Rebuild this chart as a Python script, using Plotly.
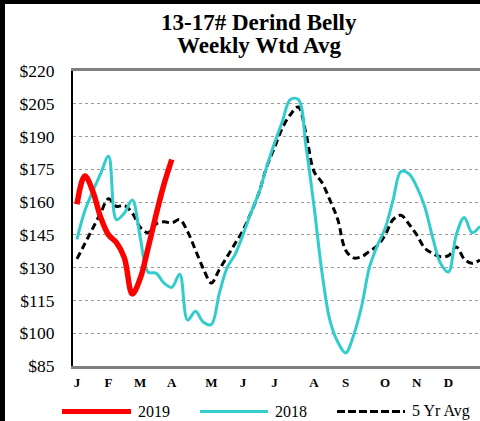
import plotly.graph_objects as go

# ---- data ----
weeks = list(range(1, 53))
weeks_2019 = list(range(1, 14))
values_2019 = [159, 172, 165, 153, 145, 141.5, 134.5, 118, 125, 139, 154, 168, 179.5]
values_2018 = [143, 156, 165, 173, 181, 152, 155, 161, 144, 128,
               127.5, 123, 121, 127, 106, 110, 105, 104, 118, 130,
               136, 145, 155, 164, 176, 187, 197, 207, 207, 185,
               158, 128, 106, 96, 91, 99, 112, 130, 140, 148,
               161, 174, 173, 167, 158, 144, 132, 128, 145, 153,
               146, 149]
values_5yr = [134, 141, 148, 155, 161.5, 158, 158.5, 155, 148.5, 146,
              150, 151, 150.5, 152, 146.5, 138, 129.5, 123, 129, 135,
              141, 147, 155, 164, 176, 185, 194, 200, 203.5, 191,
              174, 169, 161, 152, 138, 134.5, 135, 137.5, 140, 145,
              152, 154, 150, 145, 139, 136.5, 135, 135.5, 139.5, 134,
              132, 133.5]
month_ticks = [1, 5, 9, 13, 18, 22, 26, 31, 35, 40, 44, 48]
month_labels = ["J", "F", "M", "A", "M", "J", "J", "A", "S", "O", "N", "D"]
y_ticks = list(range(85, 221, 15))
series_names = ["2019", "2018", "5 Yr Avg"]

RED = "#FF0000"
CYAN = "rgb(51,204,204)"
FONT = "Liberation Serif"

W, H = 480, 421
ML, MR, MT, MB = 73, 0, 71, 55
PW, PH = W - ML - MR, H - MT - MB


def px(xp):
    return (xp - ML) / PW


def py(yp):
    return (H - MB - yp) / PH


fig = go.Figure()
fig.add_trace(go.Scatter(x=weeks, y=values_5yr, mode="lines", name=series_names[2],
                         line=dict(color="black", width=3, dash="7px,4px", shape="spline", smoothing=1)))
fig.add_trace(go.Scatter(x=weeks, y=values_2018, mode="lines", name=series_names[1],
                         line=dict(color=CYAN, width=3, shape="spline", smoothing=1)))
fig.add_trace(go.Scatter(x=weeks_2019, y=values_2019, mode="lines", name=series_names[0],
                         line=dict(color=RED, width=5.5, shape="spline", smoothing=1)))

shapes = [
    # black frame edges from the screenshot
    dict(type="rect", xref="paper", yref="paper", x0=px(0), x1=px(5), y0=py(H), y1=py(0),
         fillcolor="black", line=dict(width=0), layer="above"),
    dict(type="rect", xref="paper", yref="paper", x0=px(0), x1=px(W), y0=py(4), y1=py(0),
         fillcolor="black", line=dict(width=0), layer="above"),
    # legend samples
    dict(type="line", xref="paper", yref="paper", x0=px(62), x1=px(131), y0=py(411.5), y1=py(411.5),
         line=dict(color=RED, width=5)),
    dict(type="line", xref="paper", yref="paper", x0=px(200), x1=px(268), y0=py(411.5), y1=py(411.5),
         line=dict(color=CYAN, width=3)),
    dict(type="line", xref="paper", yref="paper", x0=px(337), x1=px(405), y0=py(411.5), y1=py(411.5),
         line=dict(color="black", width=3, dash="8px,3px")),
]

annotations = [
    dict(text="13-17# Derind Belly", x=px(259), y=py(22.5), xref="paper", yref="paper",
         showarrow=False, xanchor="center", yanchor="middle",
         font=dict(family=FONT, size=23, color="black", weight="bold")),
    dict(text="Weekly Wtd Avg", x=px(259), y=py(45.5), xref="paper", yref="paper",
         showarrow=False, xanchor="center", yanchor="middle",
         font=dict(family=FONT, size=23, color="black", weight="bold")),
]
for name, xs in zip(series_names, [136, 273, 410]):
    annotations.append(dict(text=name, x=px(xs), y=py(411), xref="paper", yref="paper",
                            showarrow=False, xanchor="left", yanchor="middle",
                            font=dict(family=FONT, size=16, color="black")))

fig.update_layout(
    width=W, height=H,
    margin=dict(l=ML, r=MR, t=MT, b=MB, pad=0),
    paper_bgcolor="white", plot_bgcolor="white",
    showlegend=False,
    shapes=shapes,
    annotations=annotations,
    font=dict(family=FONT, color="black"),
)
fig.update_xaxes(
    range=[0.5, 52.0], tickmode="array", tickvals=month_ticks, ticktext=month_labels,
    tickfont=dict(family=FONT, size=13, color="black", weight="bold"),
    showgrid=False, zeroline=False, showline=True, linecolor="#808080", linewidth=2.5,
    mirror=True, ticks="", ticklabelstandoff=3,
)
fig.update_yaxes(
    range=[85, 220], tickmode="array", tickvals=y_ticks, ticktext=[f"${v}" for v in y_ticks],
    tickfont=dict(family=FONT, size=17.5, color="black"),
    showgrid=True, gridcolor="#9a9a9a", gridwidth=1, griddash="dot",
    zeroline=False, showline=True, linecolor="black", linewidth=2, ticks="",
    ticklabelstandoff=13,
)

fig.write_html(
    "out.html",
    config={"displayModeBar": False},
    post_script="document.body.style.margin='0';document.body.style.overflow='hidden';",
)
